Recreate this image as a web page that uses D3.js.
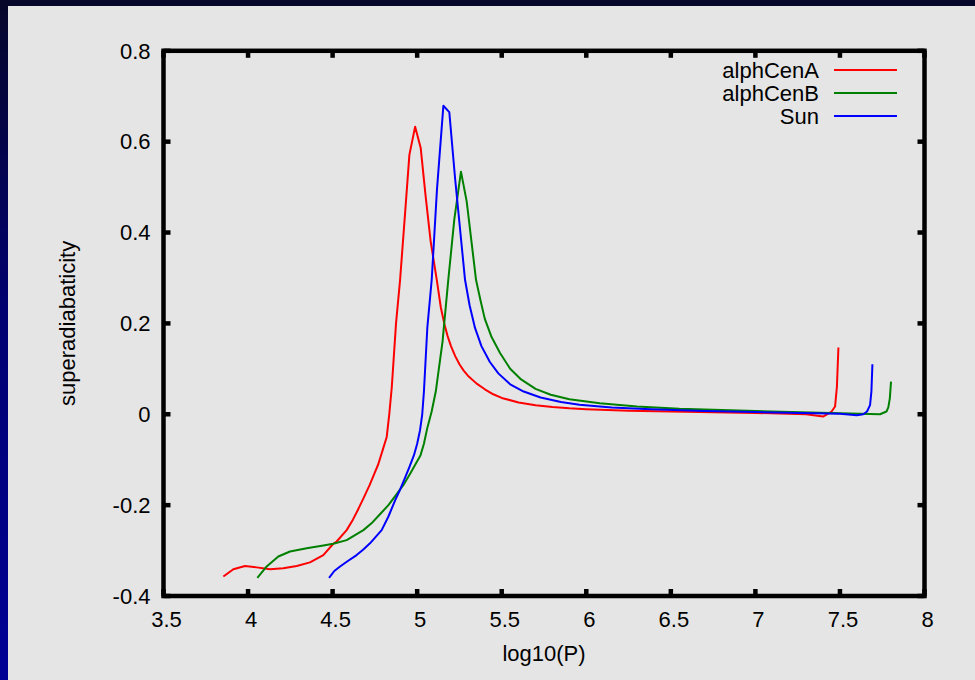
<!DOCTYPE html>
<html>
<head>
<meta charset="utf-8">
<script src="https://cdn.jsdelivr.net/npm/d3@7"></script>
<style>
  html, body { margin: 0; padding: 0; }
  body { width: 975px; height: 680px; overflow: hidden;
         background: linear-gradient(to bottom, #06062a 0%, #000070 45%, #000096 100%); }
  #chart { position: absolute; left: 8px; top: 6px; }
</style>
</head>
<body>
<div id="chart"></div>
<script>
// log10(P) vs superadiabaticity
const alphCenA = [
  [3.854, -0.357], [3.913, -0.341], [3.982, -0.334], [4.051, -0.337], [4.130, -0.341],
  [4.208, -0.339], [4.288, -0.334], [4.366, -0.326], [4.445, -0.310], [4.504, -0.285],
  [4.524, -0.280], [4.583, -0.255], [4.62, -0.232], [4.65, -0.21], [4.685, -0.183],
  [4.72, -0.155], [4.75, -0.128], [4.77, -0.11], [4.795, -0.08], [4.82, -0.05],
  [4.835, 0.0], [4.85, 0.06], [4.875, 0.2], [4.899, 0.296], [4.93, 0.45],
  [4.954, 0.571], [4.988, 0.633], [5.021, 0.586], [5.05, 0.48], [5.08, 0.38],
  [5.116, 0.296], [5.14, 0.235], [5.16, 0.2], [5.18, 0.172], [5.2, 0.15],
  [5.225, 0.128], [5.25, 0.11], [5.275, 0.096], [5.3, 0.085], [5.35, 0.068],
  [5.4, 0.055], [5.45, 0.044], [5.5, 0.036], [5.6, 0.026], [5.7, 0.02], [5.8, 0.016],
  [5.9, 0.013], [6.0, 0.011], [6.25, 0.008], [6.5, 0.006], [7.0, 0.003],
  [7.3, 0.0], [7.40, -0.005], [7.451, 0.006], [7.471, 0.017], [7.482, 0.06], [7.491, 0.147]
];
const alphCenB = [
  [4.055, -0.360], [4.110, -0.335], [4.179, -0.313], [4.248, -0.302], [4.347, -0.295],
  [4.445, -0.289], [4.504, -0.285], [4.583, -0.277], [4.682, -0.255], [4.73, -0.24],
  [4.78, -0.22], [4.83, -0.2], [4.87, -0.18], [4.92, -0.155], [4.96, -0.13],
  [4.99, -0.11], [5.02, -0.09], [5.04, -0.065], [5.06, -0.03], [5.085, 0.005],
  [5.11, 0.05], [5.15, 0.16], [5.184, 0.296], [5.22, 0.43], [5.259, 0.534],
  [5.293, 0.468], [5.348, 0.296], [5.375, 0.25], [5.40, 0.21], [5.44, 0.17],
  [5.49, 0.135], [5.55, 0.1], [5.61, 0.078], [5.7, 0.056], [5.79, 0.043],
  [5.9, 0.033], [6.08, 0.024], [6.3, 0.017], [6.55, 0.012], [7.0, 0.007],
  [7.5, 0.002], [7.737, 0.0], [7.775, 0.006], [7.786, 0.015], [7.795, 0.035], [7.802, 0.072]
];
const sun = [
  [4.479, -0.360], [4.51, -0.345], [4.544, -0.335], [4.59, -0.323], [4.642, -0.310],
  [4.68, -0.298], [4.721, -0.284], [4.755, -0.27], [4.790, -0.255], [4.83, -0.225],
  [4.869, -0.19], [4.90, -0.165], [4.928, -0.14], [4.955, -0.115], [4.981, -0.09],
  [5.0, -0.065], [5.017, -0.035], [5.03, 0.0], [5.04, 0.05], [5.06, 0.19],
  [5.086, 0.296], [5.117, 0.494], [5.155, 0.679], [5.190, 0.665], [5.224, 0.52],
  [5.283, 0.296], [5.31, 0.24], [5.342, 0.19], [5.38, 0.15], [5.43, 0.115],
  [5.48, 0.09], [5.55, 0.066], [5.63, 0.05], [5.73, 0.037], [5.85, 0.027],
  [5.96, 0.021], [6.15, 0.015], [6.38, 0.011], [6.7, 0.007], [7.0, 0.005],
  [7.5, 0.001], [7.6, -0.002], [7.638, 0.0], [7.66, 0.006], [7.678, 0.02], [7.686, 0.05], [7.692, 0.11]
];
const seriesNames = ["alphCenA", "alphCenB", "Sun"];
const seriesColors = ["#ff0000", "#008000", "#0000ff"];
const xTicks = [3.5, 4, 4.5, 5, 5.5, 6, 6.5, 7, 7.5, 8];
const yTicks = [-0.4, -0.2, 0, 0.2, 0.4, 0.6, 0.8];

const width = 967, height = 674;
const margin = { top: 44.8, right: 50.5, bottom: 84, left: 155.5 };
const chartWidth = width - margin.left - margin.right;
const chartHeight = height - margin.top - margin.bottom;
const fontSize = 22;

const svg = d3.select("#chart").append("svg")
  .attr("width", width)
  .attr("height", height)
  .style("font-family", "'Liberation Sans', Arial, sans-serif");

svg.append("rect").attr("width", width).attr("height", height).attr("fill", "#e5e5e5");

const g = svg.append("g").attr("transform", `translate(${margin.left},${margin.top})`);

const x = d3.scaleLinear().domain([3.5, 8]).range([0, chartWidth]);
const y = d3.scaleLinear().domain([-0.4, 0.8]).range([chartHeight, 0]);

// curves
const line = d3.line().x(d => x(d[0])).y(d => y(d[1]));
[alphCenA, alphCenB, sun].forEach((data, i) => {
  g.append("path")
    .datum(data)
    .attr("fill", "none")
    .attr("stroke", seriesColors[i])
    .attr("stroke-width", 2)
    .attr("stroke-linejoin", "round")
    .attr("d", line);
});

// ticks (inward on all four sides)
const tickLen = 7, tickW = 4.5;
xTicks.forEach(t => {
  g.append("line").attr("x1", x(t)).attr("x2", x(t)).attr("y1", chartHeight).attr("y2", chartHeight - tickLen)
    .attr("stroke", "#000").attr("stroke-width", tickW);
  g.append("line").attr("x1", x(t)).attr("x2", x(t)).attr("y1", 0).attr("y2", tickLen)
    .attr("stroke", "#000").attr("stroke-width", tickW);
  g.append("text").attr("x", x(t) + 3).attr("y", chartHeight + 31)
    .attr("text-anchor", "middle").attr("font-size", fontSize).text(t);
});
yTicks.forEach(t => {
  g.append("line").attr("x1", 0).attr("x2", tickLen).attr("y1", y(t)).attr("y2", y(t))
    .attr("stroke", "#000").attr("stroke-width", tickW);
  g.append("line").attr("x1", chartWidth).attr("x2", chartWidth - tickLen).attr("y1", y(t)).attr("y2", y(t))
    .attr("stroke", "#000").attr("stroke-width", tickW);
  g.append("text").attr("x", -13).attr("y", y(t)).attr("dy", "0.35em")
    .attr("text-anchor", "end").attr("font-size", fontSize).text(t);
});

// frame
g.append("rect").attr("width", chartWidth).attr("height", chartHeight)
  .attr("fill", "none").attr("stroke", "#000").attr("stroke-width", 4.5);

// axis labels
g.append("text").attr("x", chartWidth / 2).attr("y", chartHeight + 65)
  .attr("text-anchor", "middle").attr("font-size", fontSize).text("log10(P)");
g.append("text").attr("transform", `translate(${-88.5},${chartHeight / 2}) rotate(-90)`)
  .attr("text-anchor", "middle").attr("font-size", fontSize).text("superadiabaticity");

// legend
seriesNames.forEach((name, i) => {
  const ly = 64 + i * 23;
  svg.append("text").attr("x", 811).attr("y", ly).attr("dy", "0.35em")
    .attr("text-anchor", "end").attr("font-size", fontSize).text(name);
  svg.append("line").attr("x1", 826).attr("x2", 889).attr("y1", ly).attr("y2", ly)
    .attr("stroke", seriesColors[i]).attr("stroke-width", 2);
});
</script>
</body>
</html>
